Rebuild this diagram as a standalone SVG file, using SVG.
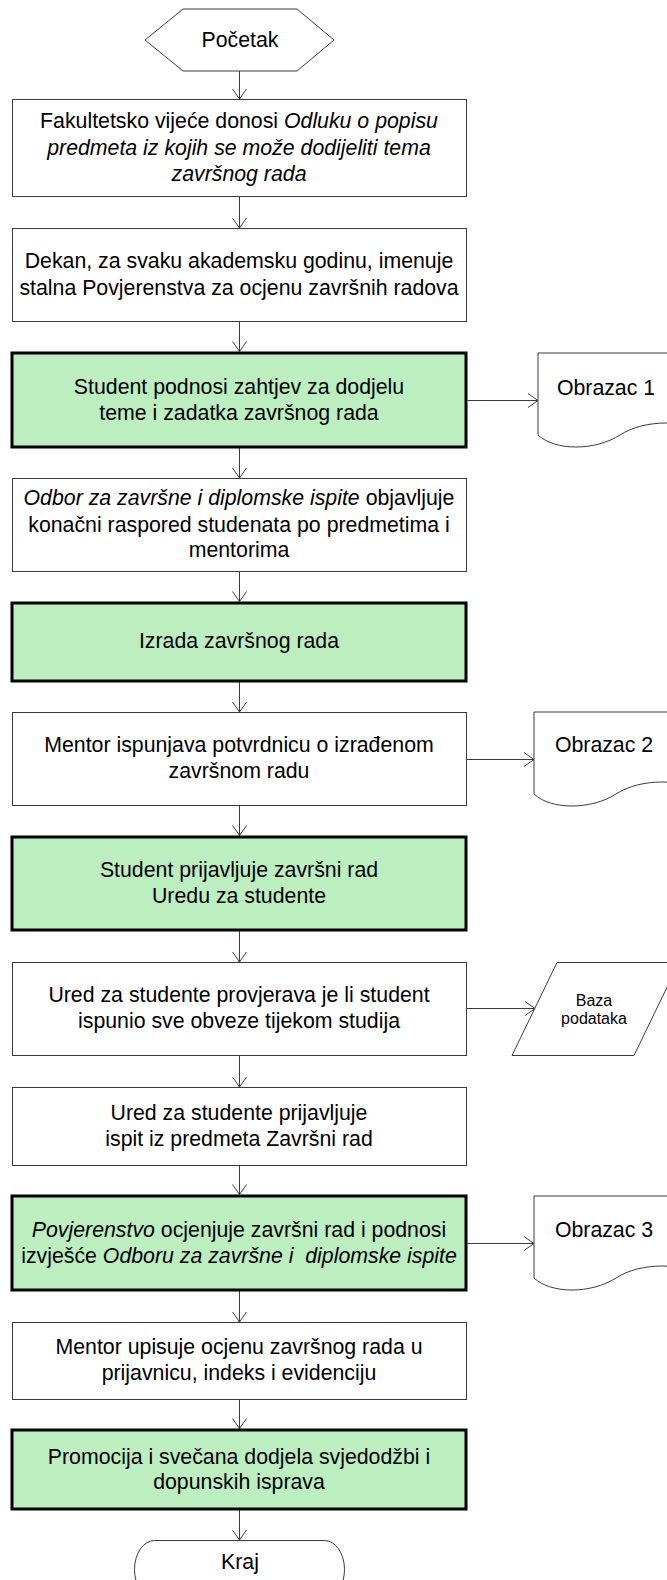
<svg xmlns="http://www.w3.org/2000/svg" width="667" height="1580" viewBox="0 0 667 1580">
<style>
.t{font-family:"Liberation Sans",Arial,sans-serif;font-size:21.3px;fill:#000;text-anchor:middle}
.s{font-family:"Liberation Sans",Arial,sans-serif;font-size:16px;fill:#000;text-anchor:middle}
.i{font-style:italic}
.w{fill:#fff;stroke:#3a3a3a;stroke-width:1}
.g{fill:#bdeec0;stroke:#000;stroke-width:3}
.c{fill:none;stroke:#3a3a3a;stroke-width:1}
</style>
<defs>
<marker id="ah" markerUnits="userSpaceOnUse" markerWidth="14" markerHeight="18" viewBox="-12 -9 14 18" refX="0" refY="0" orient="auto">
<path d="M-10,-7 L0,0 L-10,7" fill="none" stroke="#3a3a3a" stroke-width="1"/>
</marker>
<path id="doc" d="M538,353 L720,353 L720,435 C685,419 645,419 620,435 C595,451 555,451 538,435 Z"/>
</defs>
<rect width="667" height="1580" fill="#fff"/>

<g id="connectors" class="c">
<line x1="239.5" y1="71" x2="239.5" y2="99" marker-end="url(#ah)"/>
<line x1="239.5" y1="196" x2="239.5" y2="228" marker-end="url(#ah)"/>
<line x1="239.5" y1="321" x2="239.5" y2="351.5" marker-end="url(#ah)"/>
<line x1="239.5" y1="448" x2="239.5" y2="478" marker-end="url(#ah)"/>
<line x1="239.5" y1="571" x2="239.5" y2="601.5" marker-end="url(#ah)"/>
<line x1="239.5" y1="682" x2="239.5" y2="712" marker-end="url(#ah)"/>
<line x1="239.5" y1="806" x2="239.5" y2="835.5" marker-end="url(#ah)"/>
<line x1="239.5" y1="931" x2="239.5" y2="962" marker-end="url(#ah)"/>
<line x1="239.5" y1="1055" x2="239.5" y2="1087" marker-end="url(#ah)"/>
<line x1="239.5" y1="1165" x2="239.5" y2="1194.5" marker-end="url(#ah)"/>
<line x1="239.5" y1="1291" x2="239.5" y2="1322" marker-end="url(#ah)"/>
<line x1="239.5" y1="1399" x2="239.5" y2="1428.5" marker-end="url(#ah)"/>
<line x1="239.5" y1="1510" x2="239.5" y2="1540" marker-end="url(#ah)"/>
<line x1="467.5" y1="400.5" x2="538" y2="400.5" marker-end="url(#ah)"/>
<line x1="466.5" y1="759.5" x2="534" y2="759.5" marker-end="url(#ah)"/>
<line x1="466.5" y1="1008.5" x2="535" y2="1008.5" marker-end="url(#ah)"/>
<line x1="467.5" y1="1243.5" x2="534" y2="1243.5" marker-end="url(#ah)"/>
</g>

<g id="start">
<polygon class="w" points="145,40 183,9 297,9 334,40 297,71 183,71"/>
<text class="t" x="240" y="47">Početak</text>
</g>

<g id="n1">
<rect class="w" x="12.5" y="99.5" width="454" height="97"/>
<text class="t" x="239" y="128">Fakultetsko vijeće donosi <tspan class="i">Odluku o popisu</tspan></text>
<text class="t i" x="239" y="154.5">predmeta iz kojih se može dodijeliti tema</text>
<text class="t i" x="239" y="181">završnog rada</text>
</g>

<g id="n2">
<rect class="w" x="12.5" y="228.5" width="454" height="93"/>
<text class="t" x="239" y="268">Dekan, za svaku akademsku godinu, imenuje</text>
<text class="t" x="239" y="295">stalna Povjerenstva za ocjenu završnih radova</text>
</g>

<g id="n3">
<rect class="g" x="12" y="353" width="454" height="94"/>
<text class="t" x="239" y="393.5">Student podnosi zahtjev za dodjelu</text>
<text class="t" x="239" y="419.5">teme i zadatka završnog rada</text>
</g>

<g id="doc1">
<use href="#doc" class="w"/>
<text class="t" x="606" y="395">Obrazac 1</text>
</g>

<g id="n4">
<rect class="w" x="12.5" y="478.5" width="454" height="93"/>
<text class="t" x="239" y="505"><tspan class="i">Odbor za završne i diplomske ispite</tspan> objavljuje</text>
<text class="t" x="239" y="531.5">konačni raspored studenata po predmetima i</text>
<text class="t" x="239" y="557">mentorima</text>
</g>

<g id="n5">
<rect class="g" x="12" y="603" width="454" height="78"/>
<text class="t" x="239" y="648">Izrada završnog rada</text>
</g>

<g id="n6">
<rect class="w" x="12.5" y="712.5" width="454" height="93"/>
<text class="t" x="239" y="752">Mentor ispunjava potvrdnicu o izrađenom</text>
<text class="t" x="239" y="778">završnom radu</text>
</g>

<g id="doc2">
<use href="#doc" class="w" transform="translate(-4,359)"/>
<text class="t" x="604" y="752">Obrazac 2</text>
</g>

<g id="n7">
<rect class="g" x="12" y="837" width="454" height="93"/>
<text class="t" x="239" y="877">Student prijavljuje završni rad</text>
<text class="t" x="239" y="902.5">Uredu za studente</text>
</g>

<g id="n8">
<rect class="w" x="12.5" y="962.5" width="454" height="93"/>
<text class="t" x="239" y="1002">Ured za studente provjerava je li student</text>
<text class="t" x="239" y="1027.5">ispunio sve obveze tijekom studija</text>
</g>

<g id="db">
<polygon class="w" points="557,962.5 679,962.5 634,1055.5 512,1055.5"/>
<text class="s" x="594" y="1006">Baza</text>
<text class="s" x="594" y="1024">podataka</text>
</g>

<g id="n9">
<rect class="w" x="12.5" y="1087.5" width="454" height="78"/>
<text class="t" x="239" y="1120">Ured za studente prijavljuje</text>
<text class="t" x="239" y="1145.5">ispit iz predmeta Završni rad</text>
</g>

<g id="n10">
<rect class="g" x="12" y="1196" width="454" height="94"/>
<text class="t" x="239" y="1237"><tspan class="i">Povjerenstvo</tspan> ocjenjuje završni rad i podnosi</text>
<text class="t" x="239" y="1262.5" xml:space="preserve">izvješće <tspan class="i">Odboru za završne i  diplomske ispite</tspan></text>
</g>

<g id="doc3">
<use href="#doc" class="w" transform="translate(-4,843)"/>
<text class="t" x="604" y="1237">Obrazac 3</text>
</g>

<g id="n11">
<rect class="w" x="12.5" y="1322.5" width="454" height="77"/>
<text class="t" x="239" y="1353.5">Mentor upisuje ocjenu završnog rada u</text>
<text class="t" x="239" y="1379.5">prijavnicu, indeks i evidenciju</text>
</g>

<g id="n12">
<rect class="g" x="12" y="1430" width="454" height="79"/>
<text class="t" x="239" y="1463.5">Promocija i svečana dodjela svjedodžbi i</text>
<text class="t" x="239" y="1489">dopunskih isprava</text>
</g>

<g id="end">
<rect class="w" x="134.5" y="1540.5" width="210" height="58" rx="20" ry="29"/>
<text class="t" x="240" y="1569">Kraj</text>
</g>
</svg>
